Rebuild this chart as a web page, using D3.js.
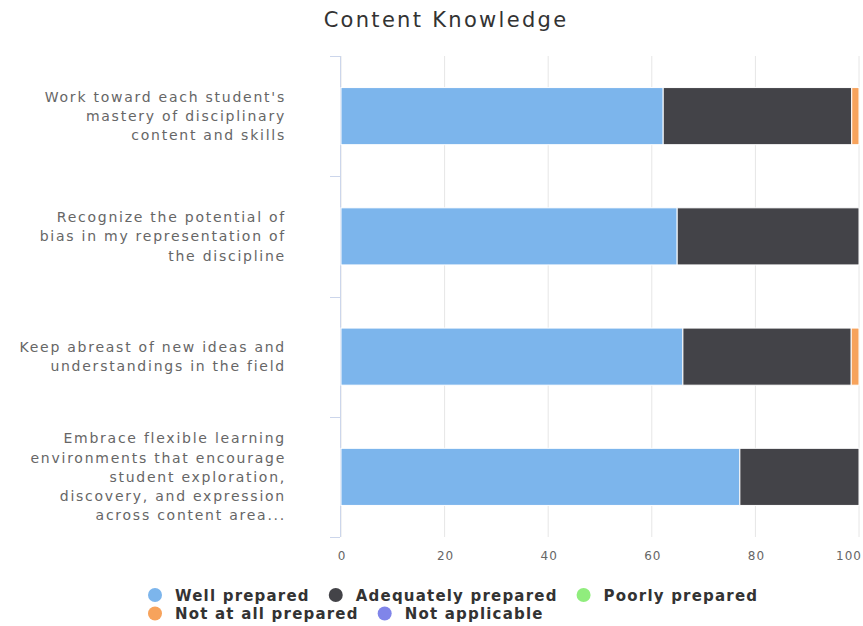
<!DOCTYPE html>
<html><head><meta charset="utf-8">
<script src="https://cdn.jsdelivr.net/npm/d3@7"></script>
<style>body{margin:0;background:#fff}svg{display:block;font-family:"DejaVu Sans",sans-serif}</style>
</head><body><svg id="c" width="863" height="626"></svg>
<script>
const categories = [
  ["Work toward each student's","mastery of disciplinary","content and skills"],
  ["Recognize the potential of","bias in my representation of","the discipline"],
  ["Keep abreast of new ideas and","understandings in the field"],
  ["Embrace flexible learning","environments that encourage","student exploration,","discovery, and expression","across content area..."]
];
const seriesNames = ["Well prepared","Adequately prepared","Poorly prepared","Not at all prepared","Not applicable"];
const colors = ["#7cb5ec","#434348","#90ed7d","#f7a35c","#8085e9"];
const wellPrepared = [62.2, 64.9, 66.0, 77.0];
const adequatelyPrepared = [36.4, 35.1, 32.5, 23.0];
const poorlyPrepared = [0, 0, 0, 0];
const notAtAllPrepared = [1.4, 0, 1.5, 0];
const notApplicable = [0, 0, 0, 0];
const xTicks = [0,20,40,60,80,100];

const values = [wellPrepared, adequatelyPrepared, poorlyPrepared, notAtAllPrepared, notApplicable];
const svg = d3.select("#c");
const pL = 341, pR = 859, pT = 56, pB = 537;
const x = d3.scaleLinear().domain([0,100]).range([pL,pR]);
const y = d3.scaleBand().domain(d3.range(categories.length)).range([pT,pB]).padding(0);
const barH = y.bandwidth()*0.475;

// title
svg.append("text").attr("x",446).attr("y",27).attr("text-anchor","middle")
  .attr("fill","#333").style("font-size","21px").style("letter-spacing","2.3px").text("Content Knowledge");

// gridlines
svg.append("g").selectAll("line").data(xTicks).join("line")
  .attr("x1",d=>x(d)).attr("x2",d=>x(d)).attr("y1",pT).attr("y2",pB)
  .attr("stroke","#e6e6e6").attr("stroke-width",1);

// y axis line + ticks
svg.append("line").attr("x1",pL-0.5).attr("x2",pL-0.5).attr("y1",pT).attr("y2",pB).attr("stroke","#ccd6eb");
const bounds = d3.range(categories.length+1).map(i=>pT+i*y.step());
svg.append("g").selectAll("line").data(bounds).join("line")
  .attr("x1",pL-11).attr("x2",pL-1).attr("y1",d=>Math.round(d)+0.5).attr("y2",d=>Math.round(d)+0.5)
  .attr("stroke","#ccd6eb");

// bars
const stack = categories.map((c,i)=>{let acc=0;return values.map((s,k)=>{const v=s[i];const r={k,i,x0:acc,x1:acc+v};acc+=v;return r;});});
svg.append("g").selectAll("rect").data(stack.flat().filter(d=>d.x1>d.x0)).join("rect")
  .attr("x",d=>x(d.x0)).attr("width",d=>x(d.x1)-x(d.x0))
  .attr("y",d=>y(d.i)+(y.bandwidth()-barH)/2).attr("height",barH)
  .attr("fill",d=>colors[d.k]).attr("stroke","#fff").attr("stroke-width",1);

// category labels
const lh = 19.3;
const lab = svg.append("g");
categories.forEach((lines,i)=>{
  const cy = y(i)+y.bandwidth()/2;
  const t = lab.append("text").attr("text-anchor","end").attr("fill","#666").style("font-size","14px").style("letter-spacing","1.75px");
  lines.forEach((ln,j)=>{
    t.append("tspan").attr("x",286).attr("y",cy+(j-(lines.length-1)/2)*lh+5).text(ln);
  });
});

// x axis labels
svg.append("g").selectAll("text").data(xTicks).join("text")
  .attr("x",(d,i)=>i===xTicks.length-1 ? 862 : x(d)+1).attr("y",560)
  .attr("text-anchor",(d,i)=>i===xTicks.length-1 ? "end" : "middle").attr("fill","#666")
  .style("font-size","12px").style("letter-spacing","1px").text(d=>d);

// legend
const rows = [[0,1,2],[3,4]];
const lg = svg.append("g");
rows.forEach((row,r)=>{
  let cx = 155;
  const yy = 595 + r*18.5;
  row.forEach(k=>{
    lg.append("circle").attr("cx",cx).attr("cy",yy).attr("r",7).attr("fill",colors[k]);
    const t = lg.append("text").attr("x",cx+20).attr("y",yy+5.5).attr("fill","#333")
      .style("font-size","15px").style("font-weight","bold").style("letter-spacing","1.2px").text(seriesNames[k]);
    cx = cx + 20 + t.node().getComputedTextLength() + 26;
  });
});
</script></body></html>
